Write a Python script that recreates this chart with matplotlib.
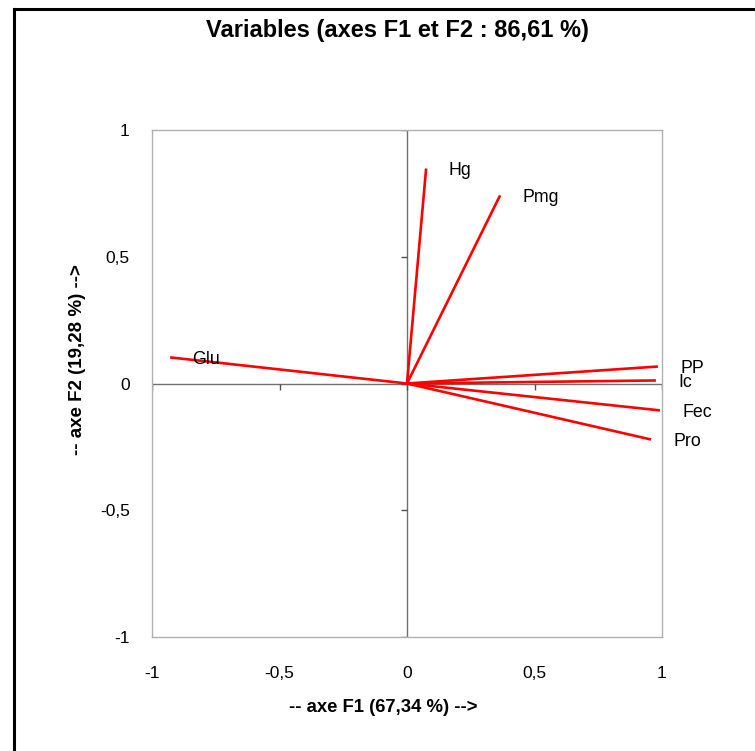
import matplotlib
matplotlib.use("Agg")
from matplotlib import pyplot as plt
import matplotlib.lines as mlines

plt.rcParams['font.family'] = ['Liberation Sans', 'DejaVu Sans']

# correlations of the variables with the factors F1 / F2
variables = ["Glu", "Hg", "Pmg", "PP", "Ic", "Fec", "Pro"]
f1 = [-0.929, 0.075, 0.365, 0.984, 0.976, 0.992, 0.957]
f2 = [0.103, 0.848, 0.742, 0.067, 0.012, -0.106, -0.221]

xticks = [-1, -0.5, 0, 0.5, 1]
yticks = [-1, -0.5, 0, 0.5, 1]
tick_labels = ["-1", "-0,5", "0", "0,5", "1"]

fig = plt.figure(figsize=(7.55, 7.51), dpi=100)
ax = fig.add_axes([152/755, 114/751, 510/755, 507/751])

# outer frame (only left and top edges visible in the image)
fig.add_artist(mlines.Line2D([14/755, 14/755], [0, 1 - 9/751], color='black', lw=2.2,
                             transform=fig.transFigure))
fig.add_artist(mlines.Line2D([14/755, 1], [1 - 9/751, 1 - 9/751], color='black', lw=2.2,
                             transform=fig.transFigure))

ax.set_xlim(-1, 1)
ax.set_ylim(-1, 1)
for s in ax.spines.values():
    s.set_color('#b0b0b0')
    s.set_linewidth(1.0)

ax.set_xticks(xticks)
ax.set_xticklabels(tick_labels)
ax.set_yticks(yticks)
ax.set_yticklabels(tick_labels)
ax.tick_params(length=0, labelsize=12.5)
ax.tick_params(axis='x', pad=21)
ax.tick_params(axis='y', pad=16)

# axes through origin with tick marks
ax.axhline(0, color='#707070', lw=1.0, zorder=1)
ax.axvline(0, color='#707070', lw=1.0, zorder=1)
ax.plot(xticks, [0] * len(xticks), ls='none', marker=3, color='#505050', ms=4, mew=1, zorder=1)
ax.plot([0] * len(yticks), yticks, ls='none', marker=0, color='#505050', ms=4, mew=1, zorder=1)

for name, x, y in zip(variables, f1, f2):
    ax.plot([0, x], [0, y], color='#ff0000', lw=1.9, solid_capstyle='butt', zorder=3)
    ax.annotate(name, (x, y), xytext=(16, -1.5), textcoords='offset points',
                ha='left', va='center', fontsize=12.8, zorder=4)

fig.text(397/755, 1 - 31/751, "Variables (axes F1 et F2 : 86,61 %)",
         ha='center', va='center', fontsize=17, fontweight='bold')
fig.text(383/755, 1 - 707/751, "-- axe F1 (67,34 %) -->",
         ha='center', va='center', fontsize=13.3, fontweight='bold')
fig.text(77/755, 1 - 360/751, "-- axe F2 (19,28 %) -->", rotation=90,
         ha='center', va='center', fontsize=13.5, fontweight='bold')

fig.savefig("out.png", dpi=100, facecolor='white')
